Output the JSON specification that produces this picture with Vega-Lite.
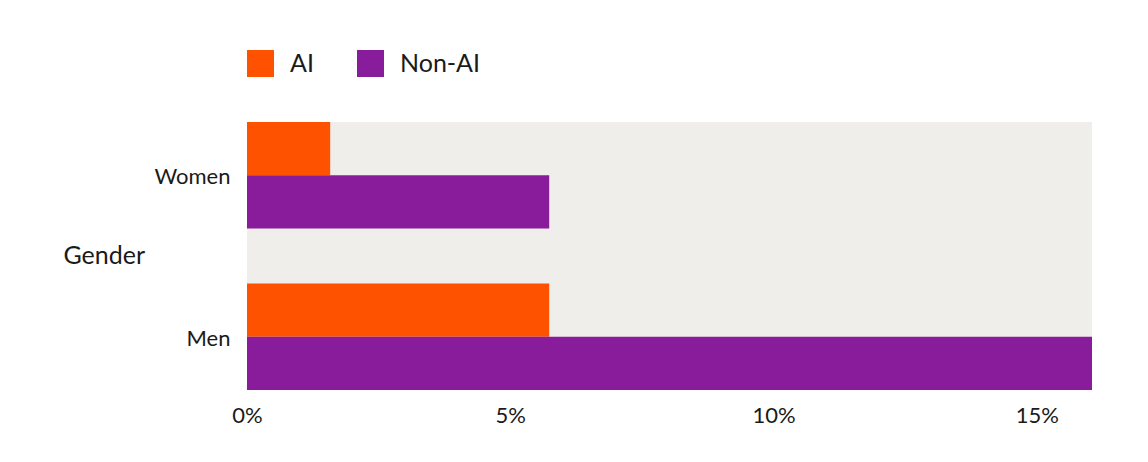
{
  "$schema": "https://vega.github.io/schema/vega-lite/v6.json",
  "width": 845,
  "height": 268,
  "autosize": {"type": "none"},
  "padding": {"left": 247, "top": 122, "right": 56, "bottom": 72},
  "background": "#ffffff",
  "data": {
    "values": [
      {"gender": "Women", "series": "AI", "share": 0.0158},
      {"gender": "Women", "series": "Non-AI", "share": 0.0574},
      {"gender": "Men", "series": "AI", "share": 0.0574},
      {"gender": "Men", "series": "Non-AI", "share": 0.1605}
    ]
  },
  "mark": {"type": "bar"},
  "encoding": {
    "y": {
      "field": "gender",
      "type": "nominal",
      "sort": ["Women", "Men"],
      "scale": {"paddingInner": 0.34, "paddingOuter": 0},
      "axis": {
        "title": "Gender",
        "titleAngle": 0,
        "titleAlign": "left",
        "titleBaseline": "middle",
        "titleX": -184,
        "titleY": 133,
        "titleFontSize": 25,
        "titleFontWeight": "normal",
        "labelFontSize": 22,
        "labelPadding": 17,
        "labelOffset": 2,
        "domain": false,
        "ticks": false
      }
    },
    "yOffset": {
      "field": "series",
      "type": "nominal",
      "sort": ["AI", "Non-AI"],
      "scale": {"paddingInner": 0, "paddingOuter": 0}
    },
    "x": {
      "field": "share",
      "type": "quantitative",
      "scale": {"domain": [0, 0.1605], "nice": false, "zero": true},
      "axis": {
        "title": null,
        "values": [0, 0.05, 0.1, 0.15],
        "format": ".0%",
        "labelFontSize": 22,
        "labelPadding": 15,
        "labelFlush": false,
        "domain": false,
        "ticks": false,
        "grid": false
      }
    },
    "color": {
      "field": "series",
      "type": "nominal",
      "sort": ["AI", "Non-AI"],
      "scale": {"domain": ["AI", "Non-AI"], "range": ["#ff5200", "#891c9a"]},
      "legend": {
        "title": null,
        "orient": "none",
        "legendX": 0,
        "legendY": -72,
        "direction": "horizontal",
        "symbolType": "square",
        "symbolSize": 729,
        "symbolStrokeWidth": 0,
        "symbolOpacity": 1,
        "labelFontSize": 25,
        "labelOffset": 16,
        "columnPadding": 43,
        "padding": 0
      }
    }
  },
  "config": {
    "font": "Lato",
    "view": {"fill": "#efeeea", "stroke": null},
    "axis": {"labelColor": "#1a1a1a", "titleColor": "#1a1a1a"},
    "legend": {"labelColor": "#1a1a1a"}
  }
}
